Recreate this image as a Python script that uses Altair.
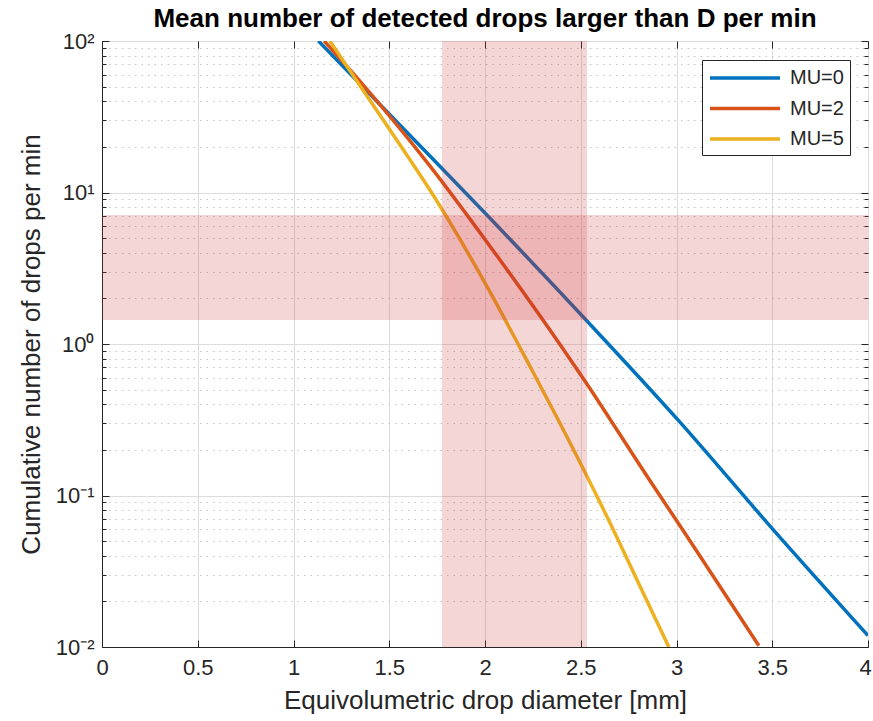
import altair as alt
import pandas as pd

# ---- data ----
series = ["MU=0", "MU=2", "MU=5"]
colors = ["#0072BD", "#D95319", "#EDB120"]

mu0_d = [1.13, 1.43, 1.70, 2.01, 2.53, 3.01, 3.50, 4.00]
mu0_n = [100, 40.6, 18.1, 7.1, 1.43, 0.313, 0.0605, 0.0119]

mu2_d = [1.16, 1.35, 1.71, 2.00, 2.39, 2.52, 2.86, 3.04, 3.43]
mu2_n = [100, 53.7, 15.1, 4.9, 1.0, 0.575, 0.126, 0.0575, 0.0102]

mu5_d = [1.19, 1.35, 1.59, 1.71, 2.01, 2.24, 2.39, 2.66, 2.81, 2.96]
mu5_n = [100, 50.1, 17.8, 10.5, 2.40, 0.692, 0.302, 0.0631, 0.0251, 0.0100]

band_d = [1.775, 2.533]      # vertical shaded band (diameter range)
band_n = [1.44, 7.1]         # horizontal shaded band (count range)

x_ticks = [0, 0.5, 1, 1.5, 2, 2.5, 3, 3.5, 4]
y_major = [0.01, 0.1, 1, 10, 100]
y_minor = [0.02, 0.03, 0.04, 0.05, 0.06, 0.07, 0.08, 0.09,
           0.2, 0.3, 0.4, 0.5, 0.6, 0.7, 0.8, 0.9,
           2, 3, 4, 5, 6, 7, 8, 9,
           20, 30, 40, 50, 60, 70, 80, 90]

rows = []
for s, ds, ns in zip(series, [mu0_d, mu2_d, mu5_d], [mu0_n, mu2_n, mu5_n]):
    for d, n in zip(ds, ns):
        rows.append({"s": s, "d": d, "n": n})
df = pd.DataFrame(rows)

bands = pd.DataFrame([
    {"x0": 0, "x1": 4, "y0": band_n[0], "y1": band_n[1]},
    {"x0": band_d[0], "x1": band_d[1], "y0": 0.01, "y1": 100},
])

FONT = "Liberation Sans"
TXT = "#262626"
xs = alt.Scale(domain=[0, 4], nice=False, zero=False)
ys = alt.Scale(type="log", domain=[0.01, 100], nice=False)

ylab = ("datum.value >= 99 ? '10²' : datum.value >= 9 ? '10¹' : "
        "datum.value >= 0.9 ? '10⁰' : datum.value >= 0.09 ? '10⁻¹' : '10⁻²'")

def tick_axis(orient, values, size):
    return alt.Axis(orient=orient, values=values, labels=False, grid=False,
                    domain=False, ticks=True, tickColor=TXT, tickWidth=1,
                    tickSize=alt.ExprRef(expr=str(-size)), title=None)

lines = alt.Chart(df).mark_line(strokeWidth=3.5, interpolate="monotone", clip=True).encode(
    x=alt.X("d:Q", scale=xs, axis=alt.Axis(
        values=x_ticks, ticks=False, grid=True, gridColor="#dcdcdc", gridWidth=1,
        domain=True, domainColor=TXT, labelFontSize=22, labelFont=FONT, labelColor=TXT,
        labelPadding=10, labelFlush=False, format=".1~f",
        labelOffset=alt.condition("datum.value >= 3.9", alt.value(-3), alt.value(0)),
        title="Equivolumetric drop diameter [mm]",
        titleFont=FONT, titleFontSize=26, titleFontWeight="normal", titleColor=TXT,
        titlePadding=9)),
    y=alt.Y("n:Q", scale=ys, axis=alt.Axis(
        values=y_major, ticks=False, grid=True, gridColor="#dcdcdc", gridWidth=1,
        domain=True, domainColor=TXT, labelFontSize=22, labelFont=FONT, labelColor=TXT,
        labelPadding=8, labelFlush=False, labelExpr=ylab,
        title="Cumulative number of drops per min",
        titleFont=FONT, titleFontSize=26, titleFontWeight="normal", titleColor=TXT,
        titlePadding=11)),
    color=alt.Color("s:N", scale=alt.Scale(domain=series, range=colors), legend=alt.Legend(
        orient="none", legendX=600, legendY=19, title=None,
        symbolType="M-1,0H6", symbolSize=400, symbolStrokeWidth=3.5,
        labelFontSize=20, labelFont=FONT, labelColor=TXT, rowPadding=8.5, padding=6,
        strokeColor=TXT, fillColor="white", labelOffset=58)),
)

def ghost(xaxis, yaxis):
    return alt.Chart(df).mark_point(opacity=0).encode(
        x=alt.X("d:Q", scale=xs, axis=xaxis),
        y=alt.Y("n:Q", scale=ys, axis=yaxis),
    )

g1 = ghost(tick_axis("bottom", x_ticks, 7),
           alt.Axis(orient="left", values=y_minor, labels=False, grid=True,
                    gridColor="#c4c4c4", gridDash=[1.5, 5], gridWidth=1, domain=False,
                    ticks=True, tickColor=TXT, tickSize=alt.ExprRef(expr="-4"), title=None))
g2 = ghost(tick_axis("top", x_ticks, 7), tick_axis("left", y_major, 7))
g3 = ghost(None, tick_axis("right", y_major, 7))
g4 = ghost(None, tick_axis("right", y_minor, 4))

band_layer = alt.Chart(bands).mark_rect(color="#cc3333", opacity=0.2).encode(
    x=alt.X("x0:Q", scale=xs, axis=None), x2="x1:Q",
    y=alt.Y("y0:Q", scale=ys, axis=None), y2="y1:Q",
)

chart = alt.layer(g1, g2, g3, g4, lines, band_layer).resolve_axis(
    x="independent", y="independent"
).properties(
    width=766, height=606,
    title=alt.TitleParams("Mean number of detected drops larger than D per min",
                          font=FONT, fontSize=26, fontWeight="bold", color="#000000",
                          anchor="middle", offset=-2),
    padding={"left": 102, "top": 41, "right": 5, "bottom": 74},
    autosize=alt.AutoSizeParams(type="none"),
).configure_view(stroke=TXT, strokeWidth=1).configure(background="white")

chart.save("out.html", embed_options={"renderer": "svg", "actions": False})
